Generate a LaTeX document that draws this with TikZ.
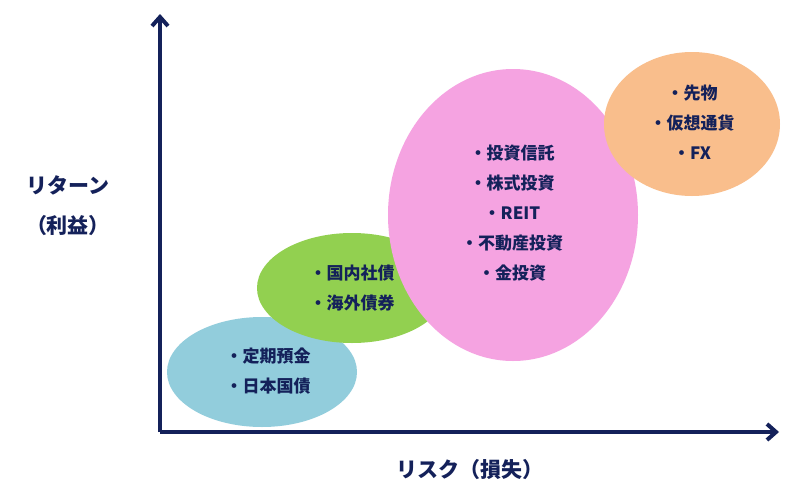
\documentclass[tikz,border=0pt]{standalone}
\usepackage{fontspec}
\newfontfamily\jp{Noto Sans CJK JP}
\usetikzlibrary{arrows.meta}
\definecolor{navy}{HTML}{14215A}
\definecolor{cblue}{HTML}{92CDDC}
\definecolor{cgreen}{HTML}{92D050}
\definecolor{cpink}{HTML}{F5A3E1}
\definecolor{corange}{HTML}{F9BE8C}
\tikzset{lbl/.style={font=\jp\bfseries\fontsize{17}{30}\selectfont,text=navy,align=center},
axis/.style={navy,line width=4pt,-{Straight Barb[length=9pt,width=16pt]}},
blob/.style={draw=none}}
\begin{document}
\begin{tikzpicture}[x=1pt,y=-1pt]
\useasboundingbox (0,0) rectangle (812,490);
\fill[white] (0,0) rectangle (812,490);
\coordinate (o) at (160,432);
\coordinate (ytop) at (160,14);
\coordinate (xend) at (779,432);
\fill[cblue] (262,372) ellipse [x radius=95,y radius=55];
\fill[cgreen] (352,288) ellipse [x radius=95,y radius=55];
\fill[cpink] (513,215) ellipse [x radius=125,y radius=146];
\fill[corange] (692,124) ellipse [x radius=88,y radius=72];
\draw[axis] (o) -- (ytop);
\draw[axis] (o) -- (xend);
\node[lbl] (b) at (268,371) {・定期預金\\・日本国債};
\node[lbl] (g) at (352,288) {・国内社債\\・海外債券};
\node[lbl] (p) at (512,213) {・投資信託\\・株式投資\\・REIT\\・不動産投資\\・金投資};
\node[lbl] (r) at (692,122) {・先物\\・仮想通貨\\・FX};
\node[lbl,font=\jp\bfseries\fontsize{21}{40}\selectfont] (yl) at (68,206) {リターン\\（利益）};
\node[lbl,font=\jp\bfseries\fontsize{21}{40}\selectfont] (xl) at (470,470) {リスク（損失）};
\end{tikzpicture}
\end{document}
